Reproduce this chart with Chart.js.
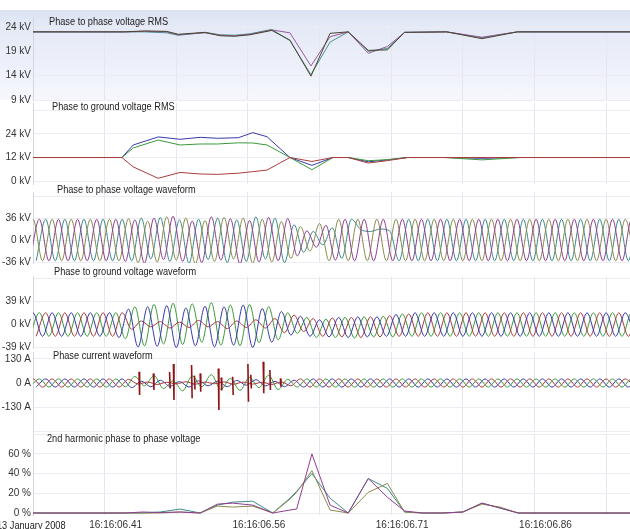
<!DOCTYPE html>
<html><head><meta charset="utf-8">
<script src="https://cdn.jsdelivr.net/npm/chart.js@4.4.1/dist/chart.umd.min.js"></script>
<style>
html,body{margin:0;padding:0;background:#fff;width:630px;height:529px;overflow:hidden;position:relative;font-family:"Liberation Sans",Arial,sans-serif;}
canvas{position:absolute;left:0;}
.t{position:absolute;font-size:10px;color:#222;white-space:nowrap;line-height:12px;transform:scaleX(0.92);transform-origin:0 50%;}
#bg{position:absolute;left:0;top:10px;width:630px;height:90px;background:linear-gradient(#d9e1f0 0%,#e2e8f5 12%,#edf0fa 60%,#f6f7fd 100%);}
</style></head><body>
<div id="bg"></div>
<canvas id="c1"></canvas><canvas id="c2"></canvas><canvas id="c3"></canvas>
<canvas id="c4"></canvas><canvas id="c5"></canvas><canvas id="c6"></canvas>
<div class="t" style="left:49px;top:16px">Phase to phase voltage RMS</div>
<div class="t" style="left:52px;top:101px">Phase to ground voltage RMS</div>
<div class="t" style="left:57px;top:184px">Phase to phase voltage waveform</div>
<div class="t" style="left:54px;top:266px">Phase to ground voltage waveform</div>
<div class="t" style="left:53px;top:350px">Phase current waveform</div>
<div class="t" style="left:47px;top:433px">2nd harmonic phase to phase voltage</div>
<div class="t" id="date" style="left:-3px;top:520px"></div>
<script>
// ---------- DATA (time in ms from left edge) ----------
const dateLabel = '13 January 2008';
const timeLabels = ['16:16:06.41','16:16:06.56','16:16:06.71','16:16:06.86'];
const timeLabelAt = [75,225,375,525];

// Phase to phase voltage RMS (kV)
const ppRmsT      = [0,96,117,140,152,180,196,211,227,250,269,291,311,330,351,371,389,433,470,507,625];
const ppRmsPurple = [23.0,23.0,23.1,23.0,22.4,22.8,22.3,22.2,22.5,23.4,22.8,16.0,22.0,23.0,18.6,20.0,22.9,23.0,21.9,23.0,23.0];
const ppRmsOlive  = [23.0,23.0,23.2,23.1,22.5,22.9,22.2,22.1,22.4,23.3,21.3,13.9,22.7,23.0,19.2,19.3,22.9,23.0,21.6,23.0,23.0];
const ppRmsTeal   = [23.0,23.0,23.0,22.8,22.3,22.9,22.4,22.3,22.6,23.5,21.2,14.2,20.9,23.0,19.0,19.6,22.9,23.0,21.8,23.0,23.0];

// Phase to ground voltage RMS (kV)
const pgRmsT     = [0,93,105,131,154,175,193,215,230,245,269,292,314,330,351,371,392,431,470,510,625];
const pgRmsBlue  = [12,12,18.4,22.5,21.3,22.3,21.8,22.1,24.7,22.6,12,8.0,12,12,9.8,10.8,12,12,11.6,12,12];
const pgRmsGreen = [12,12,16.9,20.9,18.4,18.9,18.9,19.5,19.4,18.4,12,5.8,12,12,10.4,10.9,12,12,10.8,12,12];
const pgRmsRed   = [12,12,7.2,1.4,4.4,3.6,3.4,4.0,4.8,5.6,12,10.0,12,12,9.2,10.4,12,12,12,12,12];

// Waveforms: one value per half-cycle peak (10 ms apart), phase start offsets in ms
const phaseOffset = [0, 6.67, 13.33];

// Phase to phase voltage waveform (kV)
const ppWaveOlive = [
 -34,34,-34,34,-34,34,-34,34,-34,34,
 -34,35,-37,31,-36,38,-33,36,-39,32,
 -35,37,-31,36,-38,34,-36,30,-30,22,
 -18,27,-34,34,-34,34,-34,34,-34,34,
 -34,34,-34,34,-34,34,-34,34,-34,34,
 -34,34,-34,34,-34,34,-34,34,-34,34,
 -34,34,-34,34,-34];
const ppWavePurple = [
 -34,34,-34,34,-34,34,-34,34,-34,34,
 -35,33,-38,36,-32,39,-35,31,-37,38,
 -33,35,-39,32,-36,37,-34,35,-26,15,
 -12,24,-33,34,-34,34,-34,34,-34,34,
 -34,34,-34,34,-34,34,-34,34,-34,34,
 -34,34,-34,34,-34,34,-34,34,-34,34,
 -34,34,-34,34,-34];
const ppWaveTeal = [
 -34,34,-34,34,-34,34,-34,34,-34,34,
 -34,36,-31,37,-35,33,-38,34,-32,36,
 -37,33,-35,38,-31,36,-37,25,-20,14,
 -8,20,-30,34,17,14,18,15,-34,34,
 -34,34,-34,34,-34,34,-34,34,-34,34,
 -34,34,-34,34,-34,34,-34,34,-34,34,
 -34,34,-34,34,-34];

// Phase to ground voltage waveform (kV)
const pgWaveBlue = [
 -20,20,-20,20,-20,20,-20,20,-20,20,
 -22,26,-38,30,-37,32,-39,28,-36,31,
 -38,30,-35,33,-39,27,-30,22,-18,14,
 -20,8,-21,12,-22,13,-21,13,-20,17,
 -20,20,-20,20,-20,20,-20,20,-20,20,
 -20,20,-20,20,-20,20,-20,20,-20,20,
 -20,20,-20,20,-20];
const pgWaveGreen = [
 -20,20,-20,20,-20,20,-20,20,-20,20,
 -24,30,-36,34,-33,36,-34,35,-30,37,
 -35,33,-36,34,-31,30,-26,20,-15,12,
 -22,9,-22,12,-23,13,-21,14,-21,18,
 -20,20,-20,20,-20,20,-20,20,-20,20,
 -20,20,-20,20,-20,20,-20,20,-20,20,
 -20,20,-20,20,-20];
const pgWaveRed = [
 -20,20,-20,20,-20,20,-20,20,-20,20,
 -8,6,-4,5,-6,4,-5,7,-4,5,
 -7,6,-5,8,-6,10,-14,16,-12,10,
 -20,11,-21,12,-22,13,-21,15,-20,18,
 -20,20,-20,20,-20,20,-20,20,-20,20,
 -20,20,-20,20,-20,20,-20,20,-20,20,
 -20,20,-20,20,-20];

// Phase current waveform (A)
const iWaveRed = [
 -22,22,-22,22,-22,22,-22,22,-22,22,
 -22,20,-6,5,-8,4,-5,7,-6,5,
 -4,6,-7,5,-6,4,-8,6,-15,22,
 -22,22,-22,22,-22,22,-22,22,-22,22,
 -22,22,-22,22,-22,22,-22,22,-22,22,
 -22,22,-22,22,-22,22,-22,22,-22,22,
 -22,22,-22,22,-22];
const iWaveGreen = [
 -22,22,-22,22,-22,22,-22,22,-22,22,
 -20,35,-15,40,-30,12,-42,38,-20,45,
 -35,25,-40,30,-25,42,-35,20,-22,22,
 -22,22,-22,22,-22,22,-22,22,-22,22,
 -22,22,-22,22,-22,22,-22,22,-22,22,
 -22,22,-22,22,-22,22,-22,22,-22,22,
 -22,22,-22,22,-22];
const iWaveBlue = [
 -22,22,-22,22,-22,22,-22,22,-22,22,
 -25,10,-20,15,-18,8,-22,12,-15,10,
 -20,14,-12,18,-16,9,-20,15,-22,22,
 -22,22,-22,22,-22,22,-22,22,-22,22,
 -22,22,-22,22,-22,22,-22,22,-22,22,
 -22,22,-22,22,-22,22,-22,22,-22,22,
 -22,22,-22,22,-22];
// Red current needle spikes during the fault: time, top and bottom (A)
const iRedSpikeT  = [111,126,143,147,166,169,175,194,197,209,225,228,241,248,259];
const iRedSpikeHi = [61,52,60,103,98,40,52,79,30,34,103,45,115,70,25];
const iRedSpikeLo = [-65,-38,-30,-92,-83,-35,-47,-146,-40,-65,-101,-30,-56,-38,-20];

// 2nd harmonic phase to phase voltage (%)
const h2T      = [0,96,115,133,154,175,193,209,230,251,269,276,292,311,330,351,371,389,408,429,450,470,489,508,625];
const h2Purple = [0,0,1,0.5,1,0,9,10,8,0,3,4,60,8,0,35,16,2,0,0,1,10,5,0,0];
const h2Olive  = [0,0,0,0,1,0,7,6,7,0,14,21,43,3,0,21,30,1,0,0,1,9,6,0,0];
const h2Teal   = [0,0,0,1,4,0,8,11,12,0,15,22,40,15,0,35,25,1,0,0,1,10,5,0,0];

// Axis ticks
const p1Ticks=[24,19,14,9],        p1Labels=['24 kV','19 kV','14 kV','9 kV'];
const p2Ticks=[36,24,12,0],        p2Labels=['','24 kV','12 kV','0 kV'];
const p3Ticks=[72,36,0,-36],       p3Labels=['','36 kV','0 kV','-36 kV'];
const p4Ticks=[78,39,0,-39],       p4Labels=['','39 kV','0 kV','-39 kV'];
const p5Ticks=[130,0,-130,-260],   p5Labels=['130 A','0 A','-130 A',''];
const p6Ticks=[80,60,40,20,0],     p6Labels=['','60 %','40 %','20 %','0 %'];

// ---------- COLOURS ----------
const C = {
  purple:'#8e3f8e', olive:'#8a8a4c', teal:'#3c8a8a',
  rmsPurple:'#9a5a9a', rmsOlive:'#45452c', rmsTeal:'#4a8f8f',
  blue:'#3838aa', green:'#3a9a3a', red:'#aa3c3c', dred:'#8e1414'
};
const FONT = {family:'Liberation Sans, Arial, sans-serif', size:10};

// ---------- HELPERS ----------
const pts = (ts, vs) => ts.map((t,i)=>({x:t,y:vs[i]}));
const wave = (off, vs) => vs.map((v,k)=>({x:off+10*(k-1), y:v}));
function needles(ts, hi, lo){
  const out=[];
  ts.forEach((t,i)=>{out.push({x:t,y:hi[i]}); out.push({x:t+0.6,y:lo[i]}); out.push({x:t+0.7,y:null});});
  return out;
}
function ds(data,color,smooth,w){
  return {data, borderColor:color, borderWidth:w||1, pointRadius:0, fill:false, spanGaps:false,
          cubicInterpolationMode: smooth?'monotone':'default', tension:0};
}
function xScale(show){
  return {type:'linear', min:0, max:625,
    grid:{color:'#e6e6ee', drawTicks:false, lineWidth:1},
    border:{display:false},
    ticks:{display:show, stepSize:75, includeBounds:false, autoSkip:false, maxRotation:0, minRotation:0,
      padding:4, labelOffset:11, color:'#333', font:FONT,
      callback:(v)=>{const i=timeLabelAt.indexOf(v); return i>=0?timeLabels[i]:'';}},
    afterFit:(s)=>{s.height = show?14:0;}
  };
}
function yScale(min,max,ticks,labels){
  return {type:'linear', min, max,
    afterBuildTicks:(s)=>{s.ticks = ticks.map(v=>({value:v}));},
    afterFit:(s)=>{s.width=33;},
    grid:{color:'#ececf2', drawTicks:false},
    border:{display:true, color:'#d6d6e0'},
    ticks:{padding:2, color:'#333', font:FONT, autoSkip:false,
      callback:(v)=>{const i=ticks.indexOf(v); return i>=0?labels[i]:'';}}
  };
}
function panel(id, top, height, padBottom, datasets, y, showX){
  const cv=document.getElementById(id);
  cv.width=630; cv.height=height; cv.style.top=top+'px';
  return new Chart(cv,{type:'line', data:{datasets},
    options:{responsive:false, animation:false, devicePixelRatio:1,
      layout:{padding:{top:8,bottom:padBottom,left:0,right:0}},
      plugins:{legend:{display:false}, tooltip:{enabled:false}},
      scales:{x:xScale(showX), y}}});
}
document.getElementById('date').textContent = dateLabel;

// ---------- PANELS ----------
panel('c1',10,98,8,[
  ds(pts(ppRmsT,ppRmsOlive),C.rmsOlive,false),
  ds(pts(ppRmsT,ppRmsPurple),C.rmsPurple,false),
  ds(pts(ppRmsT,ppRmsTeal),C.rmsTeal,false)
], yScale(9,25.85,p1Ticks,p1Labels), false);

panel('c2',95,97,8,[
  ds(pts(pgRmsT,pgRmsRed),C.red,false),
  ds(pts(pgRmsT,pgRmsGreen),C.green,false),
  ds(pts(pgRmsT,pgRmsBlue),C.blue,false)
], yScale(-1.5,39.8,p2Ticks,p2Labels), false);

panel('c3',184,87,8,[
  ds(wave(phaseOffset[1],ppWavePurple),C.purple,true),
  ds(wave(phaseOffset[0],ppWaveOlive),C.olive,true),
  ds(wave(phaseOffset[2],ppWaveTeal),C.teal,true)
], yScale(-37.6,78.6,p3Ticks,p3Labels), false);

panel('c4',268,88,8,[
  ds(wave(phaseOffset[0],pgWaveBlue),C.blue,true),
  ds(wave(phaseOffset[2],pgWaveRed),C.red,true),
  ds(wave(phaseOffset[1],pgWaveGreen),C.green,true)
], yScale(-39.8,82.2,p4Ticks,p4Labels), false);

panel('c5',344,96,8,[
  ds(needles(iRedSpikeT,iRedSpikeHi,iRedSpikeLo),C.dred,false,1.6),
  ds(wave(phaseOffset[0],iWaveRed),C.red,true),
  ds(wave(phaseOffset[1],iWaveGreen),C.green,true),
  ds(wave(phaseOffset[2],iWaveBlue),C.blue,true)
], yScale(-265.4,167.9,p5Ticks,p5Labels), false);

panel('c6',426,103,0,[
  ds(pts(h2T,h2Purple),C.purple,false),
  ds(pts(h2T,h2Olive),C.olive,false),
  ds(pts(h2T,h2Teal),C.teal,false)
], yScale(-2.03,80.2,p6Ticks,p6Labels), true);
</script>
</body></html>
